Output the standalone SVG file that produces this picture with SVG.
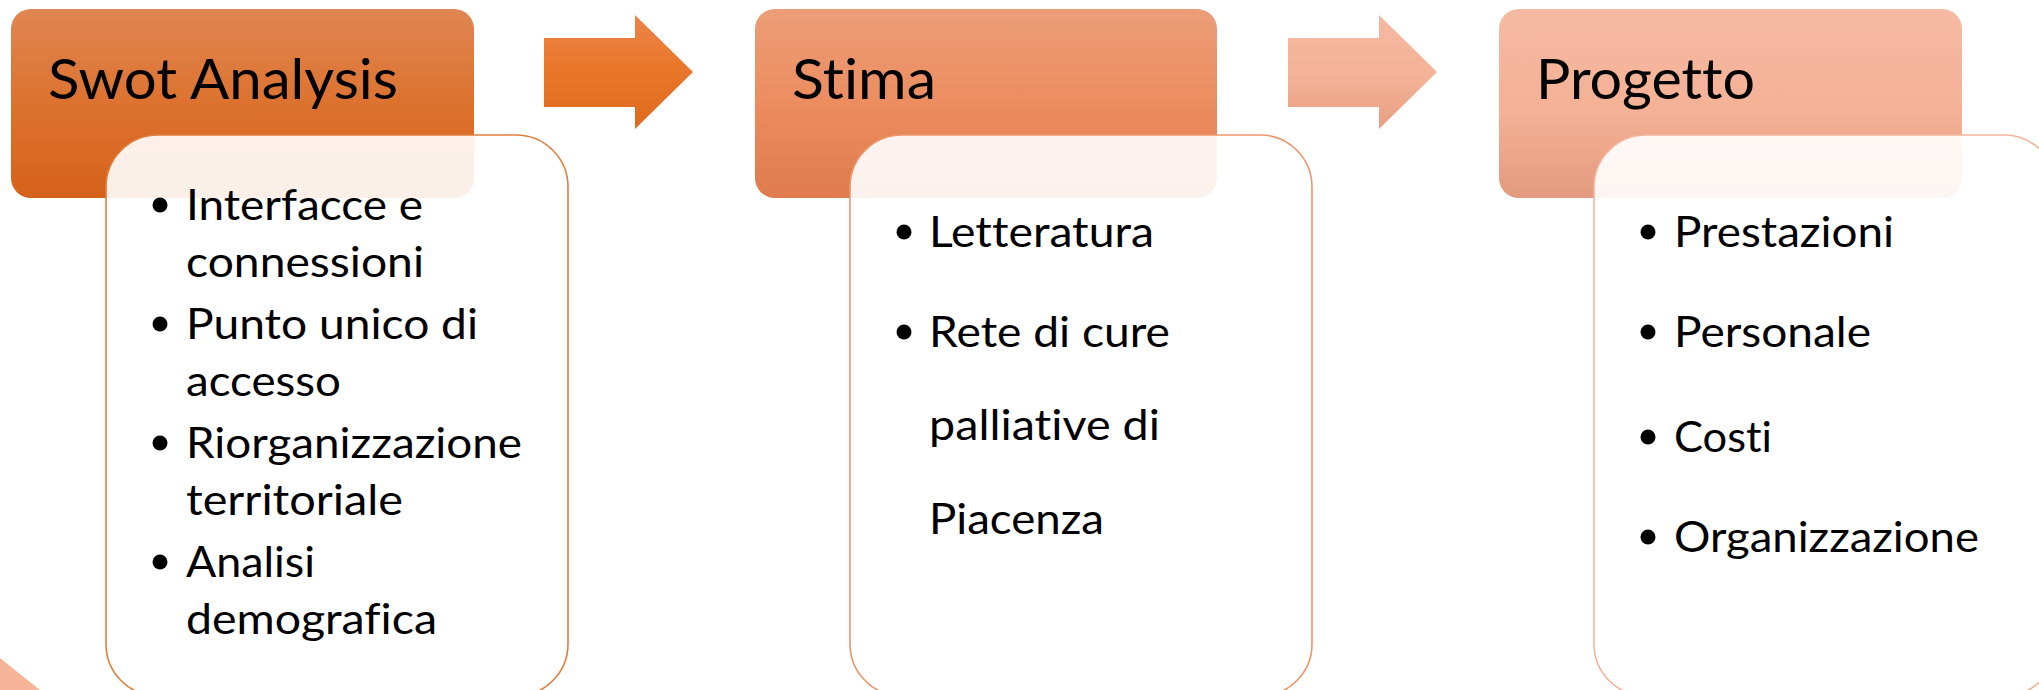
<svg xmlns="http://www.w3.org/2000/svg" width="2039" height="690" viewBox="0 0 2039 690">
  <style>
    .head { font-family: Lato, "Liberation Sans", sans-serif; font-size: 57px; fill: #000; font-variant-ligatures: none; }
    .item { font-family: Lato, "Liberation Sans", sans-serif; font-size: 43px; fill: #000; font-variant-ligatures: none; }
    .bul { fill: #000; }
    .body { fill: #ffffff; fill-opacity: 0.9; stroke-width: 1.6; }
  </style>
  <defs>
    <linearGradient id="gh1" x1="0" y1="0" x2="0" y2="1">
      <stop offset="0" stop-color="#E08652"/>
      <stop offset="0.5" stop-color="#DD722F"/>
      <stop offset="1" stop-color="#D5621A"/>
    </linearGradient>
    <linearGradient id="gh2" x1="0" y1="0" x2="0" y2="1">
      <stop offset="0" stop-color="#EC9D78"/>
      <stop offset="0.5" stop-color="#EC8D5F"/>
      <stop offset="1" stop-color="#DF7B4C"/>
    </linearGradient>
    <linearGradient id="gh3" x1="0" y1="0" x2="0" y2="1">
      <stop offset="0" stop-color="#F5BAA3"/>
      <stop offset="0.55" stop-color="#F4B195"/>
      <stop offset="1" stop-color="#E39A7E"/>
    </linearGradient>
    <linearGradient id="ga1" x1="0" y1="0" x2="0" y2="1">
      <stop offset="0" stop-color="#EC8448"/>
      <stop offset="0.5" stop-color="#E97628"/>
      <stop offset="1" stop-color="#DF6A1F"/>
    </linearGradient>
    <linearGradient id="ga2" x1="0" y1="0" x2="0" y2="1">
      <stop offset="0" stop-color="#F5B9A1"/>
      <stop offset="0.55" stop-color="#F4B296"/>
      <stop offset="1" stop-color="#E89E82"/>
    </linearGradient>
  </defs>

  <rect width="2039" height="690" fill="#ffffff"/>

  <polygon id="fragment" points="0,658 40,690 0,690" fill="#F6B598"/>

  <g id="connectors">
    <polygon id="arrow1" points="544,38 635,38 635,15 693,72 635,129 635,107 544,107" fill="url(#ga1)"/>
    <polygon id="arrow2" points="1288,38 1379,38 1379,15 1437,72 1379,129 1379,107 1288,107" fill="url(#ga2)"/>
  </g>

  <g id="node-swot">
    <rect x="11" y="9" width="463" height="189" rx="20" fill="url(#gh1)"/>
    <text class="head" x="48" y="99" textLength="350" lengthAdjust="spacingAndGlyphs">Swot Analysis</text>
  </g>
  <g id="node-stima">
    <rect x="755" y="9" width="462" height="189" rx="20" fill="url(#gh2)"/>
    <text class="head" x="792" y="99" textLength="144" lengthAdjust="spacingAndGlyphs">Stima</text>
  </g>
  <g id="node-progetto">
    <rect x="1499" y="9" width="463" height="189" rx="20" fill="url(#gh3)"/>
    <text class="head" x="1536" y="99" textLength="219" lengthAdjust="spacingAndGlyphs">Progetto</text>
  </g>

  <g id="node-swot-details">
    <rect class="body" x="106" y="135" width="462" height="561" rx="52" stroke="#E07E3C"/>
    <circle class="bul" cx="160" cy="205" r="7.5"/>
    <text class="item" x="186" y="220" textLength="237" lengthAdjust="spacingAndGlyphs">Interfacce e</text>
    <text class="item" x="186" y="277" textLength="238" lengthAdjust="spacingAndGlyphs">connessioni</text>
    <circle class="bul" cx="160" cy="324" r="7.5"/>
    <text class="item" x="186" y="339" textLength="292" lengthAdjust="spacingAndGlyphs">Punto unico di</text>
    <text class="item" x="186" y="396" textLength="155" lengthAdjust="spacingAndGlyphs">accesso</text>
    <circle class="bul" cx="160" cy="443" r="7.5"/>
    <text class="item" x="186" y="458" textLength="336" lengthAdjust="spacingAndGlyphs">Riorganizzazione</text>
    <text class="item" x="186" y="515" textLength="217" lengthAdjust="spacingAndGlyphs">territoriale</text>
    <circle class="bul" cx="160" cy="562" r="7.5"/>
    <text class="item" x="186" y="577" textLength="129" lengthAdjust="spacingAndGlyphs">Analisi</text>
    <text class="item" x="186" y="634" textLength="251" lengthAdjust="spacingAndGlyphs">demografica</text>
  </g>

  <g id="node-stima-details">
    <rect class="body" x="850" y="135" width="462" height="561" rx="52" stroke="#EE956C"/>
    <circle class="bul" cx="904" cy="232" r="7.5"/>
    <text class="item" x="929" y="247" textLength="225" lengthAdjust="spacingAndGlyphs">Letteratura</text>
    <circle class="bul" cx="904" cy="332" r="7.5"/>
    <text class="item" x="929" y="347" textLength="241" lengthAdjust="spacingAndGlyphs">Rete di cure</text>
    <text class="item" x="929" y="440" textLength="231" lengthAdjust="spacingAndGlyphs">palliative di</text>
    <text class="item" x="929" y="534" textLength="175" lengthAdjust="spacingAndGlyphs">Piacenza</text>
  </g>

  <g id="node-progetto-details">
    <rect class="body" x="1594" y="135" width="462" height="561" rx="52" stroke="#F3B59A"/>
    <circle class="bul" cx="1648" cy="232" r="7.5"/>
    <text class="item" x="1674" y="247" textLength="220" lengthAdjust="spacingAndGlyphs">Prestazioni</text>
    <circle class="bul" cx="1648" cy="332" r="7.5"/>
    <text class="item" x="1674" y="347" textLength="197" lengthAdjust="spacingAndGlyphs">Personale</text>
    <circle class="bul" cx="1648" cy="437" r="7.5"/>
    <text class="item" x="1674" y="452" textLength="98" lengthAdjust="spacingAndGlyphs">Costi</text>
    <circle class="bul" cx="1648" cy="537" r="7.5"/>
    <text class="item" x="1674" y="552" textLength="305" lengthAdjust="spacingAndGlyphs">Organizzazione</text>
  </g>
</svg>
